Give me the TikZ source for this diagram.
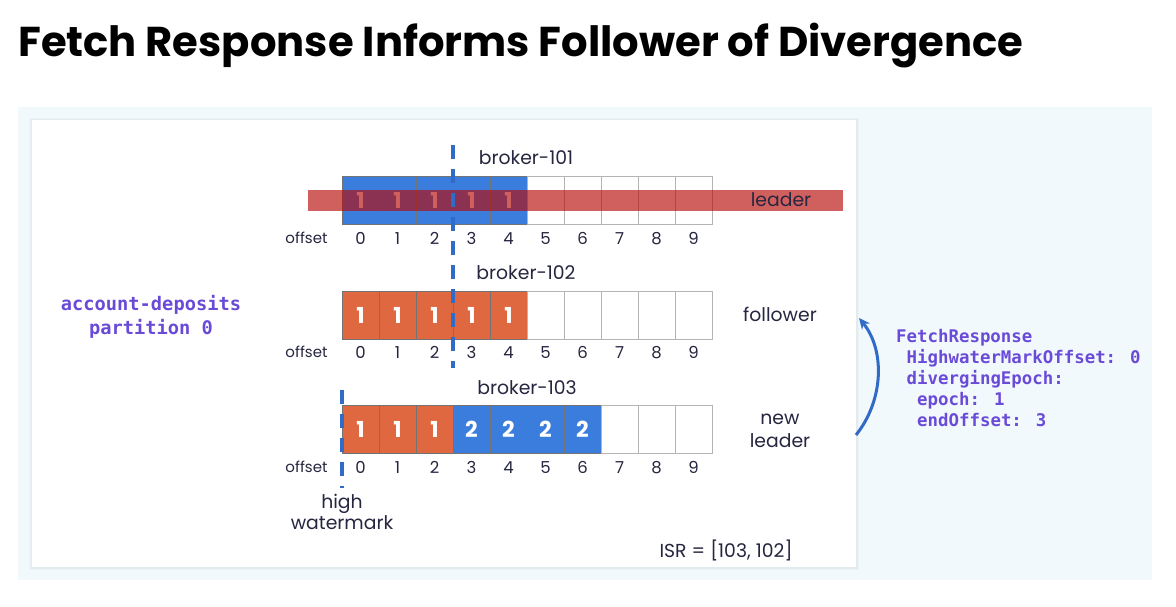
\documentclass[tikz,border=0pt]{standalone}
\usepackage{fontspec}
\setmainfont{Poppins}
\newfontfamily\monof{DejaVu Sans Mono}
\usetikzlibrary{arrows.meta}
\definecolor{panelbg}{HTML}{F2F9FD}
\definecolor{cblue}{HTML}{3B7DDD}
\definecolor{corange}{HTML}{E06840}
\definecolor{cred}{HTML}{B70B08}
\definecolor{dashblue}{HTML}{2F6BC7}
\definecolor{txt}{HTML}{262640}
\definecolor{cpurple}{HTML}{6A4BD8}
\definecolor{cellgray}{HTML}{B4B4B4}
\begin{document}
\begin{tikzpicture}[x=1pt,y=-1pt,
  cell/.style={rectangle, minimum width=37pt, minimum height=48pt, inner sep=0pt,
    draw=cellgray, line width=0.8pt, text=white, font=\fontsize{22}{22}\selectfont\bfseries},
  bluecell/.style={cell, fill=cblue, draw=black!55, line width=0.5pt},
  orangecell/.style={cell, fill=corange, draw=black!55, line width=0.5pt},
  emptycell/.style={cell, fill=white},
  offnum/.style={anchor=base, inner sep=0pt, text=txt, font=\fontsize{16.5}{16.5}\selectfont},
  offlbl/.style={anchor=base, inner sep=0pt, text=txt, font=\fontsize{15}{15}\selectfont},
  lbl/.style={anchor=base, inner sep=0pt, text=txt, font=\fontsize{18.8}{18.8}\selectfont},
  monolbl/.style={anchor=base, inner sep=0pt, text=cpurple, font=\fontsize{18.7}{18.7}\selectfont\monof\bfseries},
  monoresp/.style={anchor=base west, inner sep=0pt, text=cpurple, font=\fontsize{17.4}{17.4}\selectfont\monof\bfseries},
  hwdash/.style={draw=dashblue, line width=3.5pt, dash pattern=on 14pt off 10pt},
  curvearrow/.style={draw=dashblue, line width=3pt, -{Stealth[length=11pt,width=10pt]}}
]
\useasboundingbox (0,0) rectangle (1176,606);
\fill[white] (0,0) rectangle (1176,606);
% panel and card
\fill[panelbg] (18,107) rectangle (1152,580);
\fill[black, opacity=0.025] (29,118) rectangle (859,570);
\fill[black, opacity=0.03] (30.5,119) rectangle (857.5,569);
\fill[white] (32,120) rectangle (856,567);
% title
\node[anchor=base west, inner sep=0pt, font=\fontsize{41.7}{41.7}\selectfont\bfseries] (title) at (18,56) {Fetch Response Informs Follower of Divergence};
% row 1 cells
\foreach \i in {0,...,4} {\node[bluecell] (a\i) at (360.5+37*\i,200) {1};}
\foreach \i in {5,...,9} {\node[emptycell] (a\i) at (360.5+37*\i,200) {};}
% row 2 cells
\foreach \i in {0,...,4} {\node[orangecell] (b\i) at (360.5+37*\i,315) {1};}
\foreach \i in {5,...,9} {\node[emptycell] (b\i) at (360.5+37*\i,315) {};}
% row 3 cells
\foreach \i in {0,...,2} {\node[orangecell] (c\i) at (360.5+37*\i,429) {1};}
\foreach \i in {3,...,6} {\node[bluecell] (c\i) at (360.5+37*\i,429) {2};}
\foreach \i in {7,...,9} {\node[emptycell] (c\i) at (360.5+37*\i,429) {};}
% offsets
\foreach \i in {0,...,9} {
  \node[offnum] (oa\i) at (360.5+37*\i,244) {\i};
  \node[offnum] (ob\i) at (360.5+37*\i,358) {\i};
  \node[offnum] (oc\i) at (360.5+37*\i,473) {\i};
}
\node[offlbl] (ola) at (306.5,243) {offset};
\node[offlbl] (olb) at (306.5,357) {offset};
\node[offlbl] (olc) at (306.5,472) {offset};
% leader bar
\fill[cred, opacity=0.65] (308,190) rectangle (843,211);
% labels
\node[lbl] (br1) at (526,164) {broker-101};
\node[lbl] (br2) at (526,279) {broker-102};
\node[lbl] (br3) at (527,394) {broker-103};
\node[lbl] (lead) at (781,206) {leader};
\node[lbl] (foll) at (780,321) {follower};
\node[lbl] (nl1) at (780,424) {new};
\node[lbl] (nl2) at (780,447) {leader};
\node[lbl] (hw1) at (342,508) {high};
\node[lbl] (hw2) at (342,529) {watermark};
\node[lbl] (isr) at (726,557) {ISR = [103, 102]};
% partition label
\node[monolbl] (pl1) at (151,310) {account-deposits};
\node[monolbl] (pl2) at (151,334) {partition 0};
% fetch response
\node[monoresp] (f1) at (896,342) {FetchResponse};
\node[monoresp] (f2) at (906.5,363) {HighwaterMarkOffset: 0};
\node[monoresp] (f3) at (906.5,384) {divergingEpoch:};
\node[monoresp] (f4) at (917,405) {epoch: 1};
\node[monoresp] (f5) at (917,426) {endOffset: 3};
% dashed lines
\coordinate (d1t) at (453,145);
\coordinate (d1b) at (453,368);
\coordinate (d2t) at (342,390);
\coordinate (d2b) at (342,488);
\draw[hwdash] (d1t) -- (d1b);
\draw[hwdash] (d2t) -- (d2b);
% arrow
\coordinate (arS) at (856,435);
\coordinate (arE) at (859,318);
\draw[curvearrow] (arS) .. controls (884,400) and (885,350) .. (arE);
\end{tikzpicture}
\end{document}
